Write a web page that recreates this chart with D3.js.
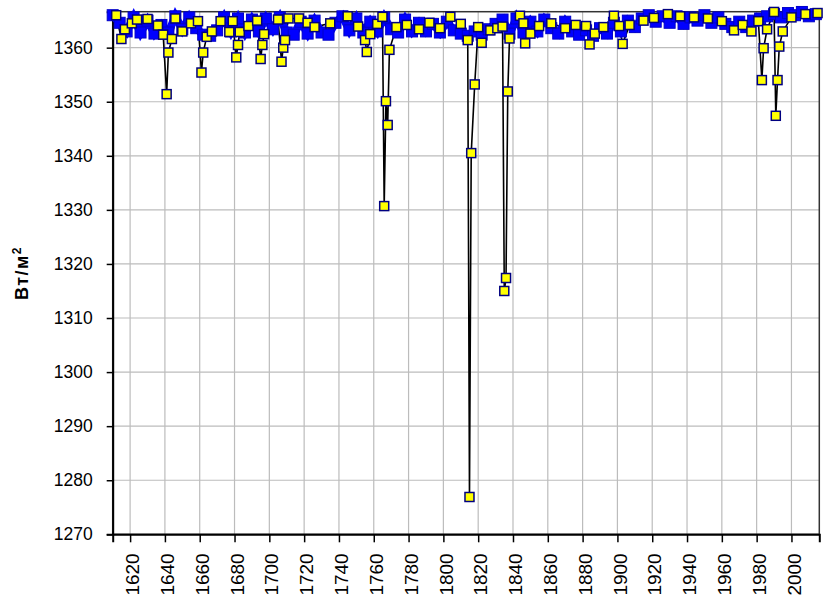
<!DOCTYPE html>
<html>
<head>
<meta charset="utf-8">
<script src="https://cdn.jsdelivr.net/npm/d3@7/dist/d3.min.js"></script>
<style>
  body { margin: 0; background: #fff; }
  svg { display: block; }
  text { font-family: "Liberation Sans", Arial, sans-serif; fill: #000; }
</style>
</head>
<body>
<svg id="chart" width="823" height="598"></svg>
<script>
"use strict";

// blue series, one value every 4 years from 1610
const blueStart = 1610;
const blueStep = 4;
const blueValues = [
  1366.0, 1364.6, 1363.0, 1365.6, 1362.8, 1365.0, 1362.6, 1364.2,   // 1610-1638
  1362.8, 1365.8, 1363.4, 1365.6, 1363.6, 1362.4, 1362.2, 1363.2,   // 1642-1670
  1365.6, 1363.0, 1365.4, 1362.8, 1365.2, 1363.0, 1365.4, 1363.4,   // 1674-1702
  1365.6, 1362.8, 1362.4, 1364.8, 1362.6, 1365.0, 1362.8, 1362.4,   // 1706-1734
  1364.6, 1365.8, 1363.2, 1365.4, 1362.8, 1364.8, 1363.0, 1365.6,   // 1738-1766
  1363.4, 1362.8, 1365.2, 1363.0, 1364.6, 1363.0, 1364.4, 1362.8,   // 1770-1798
  1364.8, 1363.2, 1362.6, 1362.2, 1363.0, 1362.4, 1363.4, 1364.4,   // 1802-1830
  1365.2, 1362.6, 1365.4, 1362.8, 1364.8, 1363.0, 1365.2, 1363.6,   // 1834-1862
  1362.6, 1364.8, 1363.0, 1362.4, 1363.2, 1362.2, 1363.6, 1362.6,   // 1866-1894
  1364.6, 1363.0, 1365.0, 1363.8, 1365.4, 1366.0, 1364.8, 1365.8,   // 1898-1926
  1364.6, 1365.8, 1364.4, 1365.6, 1365.0, 1366.0, 1364.6, 1365.6,   // 1930-1958
  1364.4, 1363.8, 1364.8, 1363.8, 1365.0, 1365.4, 1365.8, 1366.2,   // 1962-1990
  1365.6, 1366.4, 1366.0, 1366.6, 1365.8, 1366.2                    // 1994-2014
];

// yellow series (years and values)
const yellowYears = [
  1612, 1615, 1617, 1621, 1624, 1630, 1636, 1639, 1641, 1642, 1644, 1646,
  1650, 1655, 1659, 1661, 1662, 1664, 1667, 1672, 1677, 1679, 1681, 1682,
  1683, 1688, 1693, 1695, 1696, 1697, 1705, 1707, 1708, 1709, 1711, 1717,
  1722, 1726, 1735, 1745, 1751, 1755, 1756, 1758, 1762, 1765, 1766, 1767,
  1768, 1769, 1773, 1779, 1786, 1792, 1798, 1804, 1810, 1814, 1815, 1816,
  1818, 1820, 1822, 1827, 1831, 1834, 1835, 1836, 1837, 1838, 1844, 1846,
  1847, 1850, 1855, 1862, 1870, 1876, 1882, 1884, 1887, 1892, 1898, 1901,
  1903, 1907, 1915, 1921, 1929, 1936, 1944, 1952, 1960, 1967, 1972, 1977,
  1981, 1983, 1984, 1986, 1990, 1991, 1992, 1993, 1995, 2000, 2008, 2015
];
const yellowValues = [
  1366.0, 1361.6, 1363.4, 1364.5, 1365.2, 1365.3, 1364.1, 1362.4, 1351.4, 1359.1, 1361.6, 1365.4,
  1363.0, 1364.5, 1364.9, 1355.4, 1359.1, 1362.0, 1363.0, 1364.9, 1362.9, 1364.9, 1358.2, 1360.5,
  1362.9, 1364.0, 1365.0, 1357.9, 1360.5, 1362.5, 1365.2, 1357.4, 1360.0, 1361.4, 1365.4, 1365.4,
  1364.6, 1363.8, 1364.5, 1365.8, 1363.9, 1361.4, 1359.2, 1362.5, 1364.4, 1365.7, 1330.7, 1350.1,
  1345.7, 1359.6, 1363.8, 1364.2, 1363.4, 1364.6, 1363.6, 1365.7, 1364.4, 1361.4, 1276.9, 1340.5,
  1353.2, 1363.8, 1360.9, 1363.2, 1363.6, 1363.9, 1315.0, 1317.4, 1351.9, 1361.7, 1365.9, 1364.5,
  1360.8, 1362.6, 1364.0, 1364.5, 1363.6, 1364.2, 1364.0, 1360.6, 1362.6, 1363.8, 1365.9, 1364.0,
  1360.7, 1364.2, 1365.0, 1365.5, 1366.2, 1365.8, 1365.6, 1365.4, 1364.9, 1363.2, 1364.2, 1363.0,
  1364.9, 1354.0, 1359.9, 1363.4, 1366.6, 1347.4, 1354.0, 1360.2, 1363.0, 1365.6, 1366.2, 1366.4
];

const yTicks = [1270, 1280, 1290, 1300, 1310, 1320, 1330, 1340, 1350, 1360];
const xTicks = [1620, 1640, 1660, 1680, 1700, 1720, 1740, 1760, 1780, 1800, 1820,
  1840, 1860, 1880, 1900, 1920, 1940, 1960, 1980, 2000];

const blue = blueValues.map(function(v, i) {
  return { year: blueStart + i * blueStep, value: v };
});
const yellow = yellowYears.map(function(yr, i) {
  return { year: yr, value: yellowValues[i] };
});

const plotLeft = 112.7, plotRight = 819.3, plotTop = 11.7, plotBottom = 534.3;

const svg = d3.select('#chart');

const x = d3.scaleLinear().domain([1610, 2016]).range([plotLeft, plotRight]);
const y = d3.scaleLinear().domain([1270, 1366.65]).range([plotBottom, plotTop]);

// grid
svg.append('g')
  .selectAll('line')
  .data(xTicks)
  .enter().append('line')
  .attr('x1', function(d) { return x(d); })
  .attr('x2', function(d) { return x(d); })
  .attr('y1', plotTop)
  .attr('y2', plotBottom)
  .attr('stroke', '#bcbcbc')
  .attr('stroke-width', 1.2);

svg.append('g')
  .selectAll('line')
  .data(yTicks.slice(1))
  .enter().append('line')
  .attr('x1', plotLeft)
  .attr('x2', plotRight)
  .attr('y1', function(d) { return y(d); })
  .attr('y2', function(d) { return y(d); })
  .attr('stroke', '#bcbcbc')
  .attr('stroke-width', 1.2);

// frame
svg.append('rect')
  .attr('x', plotLeft)
  .attr('y', plotTop)
  .attr('width', plotRight - plotLeft)
  .attr('height', plotBottom - plotTop)
  .attr('fill', 'none')
  .attr('stroke', '#333')
  .attr('stroke-width', 1.5);

// axes
const yAxis = d3.axisLeft(y).tickValues(yTicks).tickFormat(d3.format('d'))
  .tickSize(6).tickPadding(14);
const gy = svg.append('g')
  .attr('transform', `translate(${plotLeft},0)`)
  .call(yAxis);
gy.select('.domain').attr('stroke', '#000').attr('stroke-width', 2);
gy.selectAll('.tick line').attr('stroke', '#000').attr('stroke-width', 1.5);
gy.selectAll('.tick text')
  .style('font-size', '17.5px')
  .attr('fill', '#000');

const xAxis = d3.axisBottom(x).tickValues(xTicks).tickFormat(d3.format('d')).tickSize(8);
const gx = svg.append('g')
  .attr('transform', `translate(0,${plotBottom})`)
  .call(xAxis);
gx.select('.domain').attr('stroke', '#000').attr('stroke-width', 2);
gx.selectAll('.tick line').attr('stroke', '#000').attr('stroke-width', 1.5);
gx.selectAll('.tick text')
  .style('font-size', '19px')
  .attr('fill', '#000')
  .attr('text-anchor', 'end')
  .attr('transform', 'rotate(-90)')
  .attr('x', -19)
  .attr('y', 2)
  .attr('dy', '0.35em');

// y title
const title = svg.append('text')
  .attr('transform', 'translate(28,273) rotate(-90)')
  .attr('text-anchor', 'middle')
  .style('font-size', '18px')
  .style('font-weight', 'bold')
  .style('letter-spacing', '1.5px');
title.append('tspan').text('Вт/м');
title.append('tspan')
  .attr('dy', -7)
  .style('font-size', '12px')
  .text('2');

// yellow series line (black), drawn underneath the blue band
const line = d3.line()
  .x(function(d) { return x(d.year); })
  .y(function(d) { return y(d.value); });

svg.append('path')
  .datum(yellow)
  .attr('fill', 'none')
  .attr('stroke', '#000')
  .attr('stroke-width', 1.6)
  .attr('d', line);

// blue series
svg.append('path')
  .datum(blue)
  .attr('fill', 'none')
  .attr('stroke', '#0000ff')
  .attr('stroke-width', 8)
  .attr('d', line);

svg.append('g')
  .selectAll('rect')
  .data(blue)
  .enter().append('rect')
  .attr('x', function(d) { return x(d.year) - 5.5; })
  .attr('y', function(d) { return y(d.value) - 5.5; })
  .attr('width', 11)
  .attr('height', 11)
  .attr('fill', '#0000ff')
  .attr('stroke', '#0000c8')
  .attr('stroke-width', 1);

// yellow markers on top
svg.append('g')
  .selectAll('rect')
  .data(yellow)
  .enter().append('rect')
  .attr('x', function(d) { return x(d.year) - 4.5; })
  .attr('y', function(d) { return y(d.value) - 4.5; })
  .attr('width', 9)
  .attr('height', 9)
  .attr('fill', '#ffff00')
  .attr('stroke', '#000080')
  .attr('stroke-width', 1.5);
</script>
</body>
</html>
